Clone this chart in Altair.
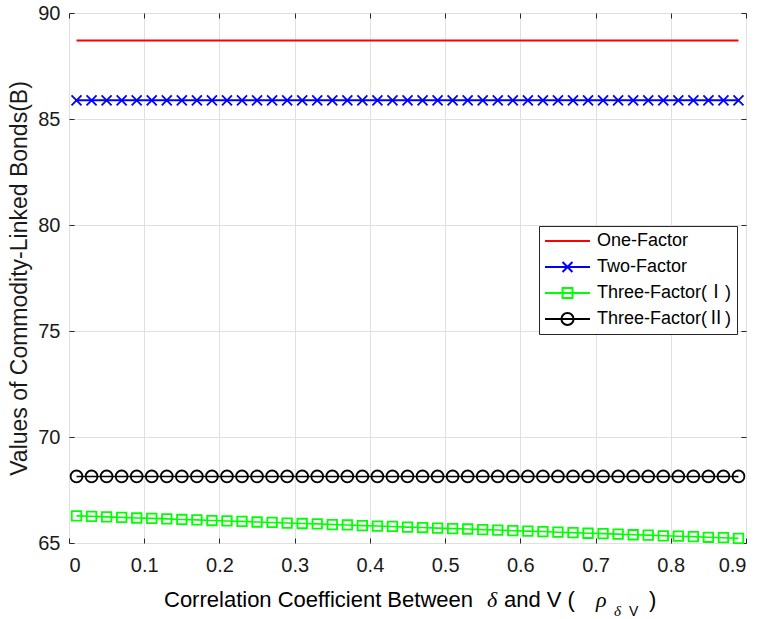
import altair as alt
import pandas as pd

FONT = "Liberation Sans, Arial, Noto Sans CJK SC"
SERIF = "Liberation Serif, Times New Roman, DejaVu Serif"

x_vals = [0.01, 0.03, 0.05, 0.07, 0.09, 0.11, 0.13, 0.15, 0.17, 0.19,
          0.21, 0.23, 0.25, 0.27, 0.29, 0.31, 0.33, 0.35, 0.37, 0.39,
          0.41, 0.43, 0.45, 0.47, 0.49, 0.51, 0.53, 0.55, 0.57, 0.59,
          0.61, 0.63, 0.65, 0.67, 0.69, 0.71, 0.73, 0.75, 0.77, 0.79,
          0.81, 0.83, 0.85, 0.87, 0.89]

one_factor = [88.70, 88.70, 88.70, 88.70, 88.70, 88.70, 88.70, 88.70, 88.70, 88.70,
              88.70, 88.70, 88.70, 88.70, 88.70, 88.70, 88.70, 88.70, 88.70, 88.70,
              88.70, 88.70, 88.70, 88.70, 88.70, 88.70, 88.70, 88.70, 88.70, 88.70,
              88.70, 88.70, 88.70, 88.70, 88.70, 88.70, 88.70, 88.70, 88.70, 88.70,
              88.70, 88.70, 88.70, 88.70, 88.70]

two_factor = [85.88, 85.88, 85.88, 85.88, 85.88, 85.88, 85.88, 85.88, 85.88, 85.88,
              85.88, 85.88, 85.88, 85.88, 85.88, 85.88, 85.88, 85.88, 85.88, 85.88,
              85.88, 85.88, 85.88, 85.88, 85.88, 85.88, 85.88, 85.88, 85.88, 85.88,
              85.88, 85.88, 85.88, 85.88, 85.88, 85.88, 85.88, 85.88, 85.88, 85.88,
              85.88, 85.88, 85.88, 85.88, 85.88]

three_factor_1 = [66.28, 66.26, 66.23, 66.21, 66.18, 66.16, 66.14, 66.11, 66.09, 66.06,
                  66.04, 66.02, 65.99, 65.97, 65.94, 65.92, 65.90, 65.87, 65.85, 65.82,
                  65.80, 65.78, 65.75, 65.73, 65.70, 65.68, 65.66, 65.63, 65.61, 65.58,
                  65.56, 65.54, 65.51, 65.49, 65.46, 65.44, 65.42, 65.39, 65.37, 65.34,
                  65.32, 65.30, 65.27, 65.25, 65.22]

three_factor_2 = [68.14, 68.14, 68.14, 68.14, 68.14, 68.14, 68.14, 68.14, 68.14, 68.14,
                  68.14, 68.14, 68.14, 68.14, 68.14, 68.14, 68.14, 68.14, 68.14, 68.14,
                  68.14, 68.14, 68.14, 68.14, 68.14, 68.14, 68.14, 68.14, 68.14, 68.14,
                  68.14, 68.14, 68.14, 68.14, 68.14, 68.14, 68.14, 68.14, 68.14, 68.14,
                  68.14, 68.14, 68.14, 68.14, 68.14]

series_names = ["One-Factor", "Two-Factor", "Three-Factor(Ⅰ)", "Three-Factor(Ⅱ)"]
series_colors = ["#ff0000", "#0000ff", "#00ff00", "#000000"]
line_widths = [2, 2, 1.6, 1.6]
marker_shapes = [None, "M-1,-1L1,1M-1,1L1,-1", "square", "circle"]
marker_sizes = [0, 100, 90, 140]
legend_paths = [
    "M-1,0L1,0",
    "M-1,0L1,0M-0.22,-0.22L0.22,0.22M-0.22,0.22L0.22,-0.22",
    "M-1,0L1,0M-0.22,-0.22L0.22,-0.22L0.22,0.22L-0.22,0.22Z",
    "M-1,0L1,0M-0.27,0A0.27,0.27,0,1,1,0.27,0A0.27,0.27,0,1,1,-0.27,0Z",
]

x_ticks = [0, 0.1, 0.2, 0.3, 0.4, 0.5, 0.6, 0.7, 0.8, 0.9]
y_ticks = [65, 70, 75, 80, 85, 90]

y_title = "Values of Commodity-Linked Bonds(B)"
# x-axis title pieces: (text, font, size, italic, x offset in plot px, baseline y in plot px)
x_title_parts = [
    ("Correlation Coefficient Between", FONT, 22, "normal", 95, 594),
    ("δ", SERIF, 22, "italic", 418, 594),
    ("and V (", FONT, 22, "normal", 435, 594),
    ("ρ", SERIF, 22, "italic", 527, 594),
    ("δ", SERIF, 15, "italic", 545, 603),
    ("V", FONT, 14, "normal", 560, 603),
    (")", FONT, 22, "normal", 580, 594),
]

rows = []
for name, vals in zip(series_names, [one_factor, two_factor, three_factor_1, three_factor_2]):
    for xv, yv in zip(x_vals, vals):
        rows.append({"series": name, "x": xv, "y": yv})
df = pd.DataFrame(rows)

xscale = alt.Scale(domain=[0, 0.9], nice=False, zero=False)
yscale = alt.Scale(domain=[65, 90], nice=False, zero=False)

xenc = alt.X("x:Q", scale=xscale,
             axis=alt.Axis(values=x_ticks, format=".1~f", title=None, labelPadding=12,
                           ticks=True, tickSize=5, offset=-5, domain=False, tickColor="#262626"))
yenc = alt.Y("y:Q", scale=yscale,
             axis=alt.Axis(values=y_ticks, title=y_title, labelPadding=9, titlePadding=6,
                           ticks=True, tickSize=5, offset=-5, domain=False, tickColor="#262626"))

base = alt.Chart(df)
layers = []
for name, col, lw in zip(series_names, series_colors, line_widths):
    layers.append(
        base.transform_filter(alt.datum.series == name)
        .mark_line(color=col, strokeWidth=lw)
        .encode(x=xenc, y=yenc)
    )
for name, col, shp, sz in zip(series_names, series_colors, marker_shapes, marker_sizes):
    if shp is None:
        continue
    layers.append(
        base.transform_filter(alt.datum.series == name)
        .mark_point(color=col, shape=shp, size=sz, filled=False, strokeWidth=1.8, opacity=1)
        .encode(x=xenc, y=yenc)
    )

leg = alt.Legend(
    title=None, orient="none", legendX=470, legendY=213, direction="vertical",
    fillColor="white", strokeColor="#262626", padding=5, clipHeight=20, rowPadding=6,
    symbolSize=2025, symbolStrokeWidth=2, labelFont=FONT, labelFontSize=18,
    labelColor="#000000", labelOffset=6, symbolType="stroke",
)
legend_df = df.groupby("series", sort=False).head(1)
layers.append(
    alt.Chart(legend_df).mark_point(opacity=0, filled=False, size=2025)
    .encode(
        x=xenc, y=yenc,
        color=alt.Color("series:N", scale=alt.Scale(domain=series_names, range=series_colors), legend=leg),
        shape=alt.Shape("series:N", scale=alt.Scale(domain=series_names, range=legend_paths), legend=leg),
    )
)

for txt, fnt, fs, style, px, py in x_title_parts:
    layers.append(
        alt.Chart(pd.DataFrame({"t": [txt]}))
        .mark_text(align="left", baseline="alphabetic", font=fnt, fontSize=fs,
                   fontStyle=style, color="#000000")
        .encode(text="t:N", x=alt.value(px), y=alt.value(py))
    )

main = alt.layer(*layers)

# mirrored inward ticks on the top and right edges (box style)
tick_layer = alt.Chart(legend_df).mark_point(opacity=0).encode(
    x=alt.X("x:Q", scale=xscale,
            axis=alt.Axis(orient="top", values=x_ticks, labels=False, title=None, grid=False,
                          domain=False, ticks=True, tickSize=5, offset=-5, tickColor="#262626")),
    y=alt.Y("y:Q", scale=yscale,
            axis=alt.Axis(orient="right", values=y_ticks, labels=False, title=None, grid=False,
                          domain=False, ticks=True, tickSize=5, offset=-5, tickColor="#262626")),
)

chart = (
    alt.layer(main, tick_layer)
    .resolve_axis(x="independent", y="independent")
    .properties(width=677, height=530, autosize=alt.AutoSizeParams(type="none"),
                padding={"left": 69, "top": 13, "right": 17, "bottom": 76})
    .configure_view(stroke="#262626", strokeWidth=1)
    .configure_axis(grid=True, gridColor="#e0e0e0", gridWidth=1, domainColor="#262626",
                    domainWidth=1, ticks=False, tickSize=0, labelFont=FONT, labelFontSize=20,
                    labelColor="#1a1a1a", titleFont=FONT, titleFontSize=23, titleColor="#1a1a1a",
                    titleFontWeight="normal")
)

chart.save("out.html", embed_options={"renderer": "svg", "actions": False})
